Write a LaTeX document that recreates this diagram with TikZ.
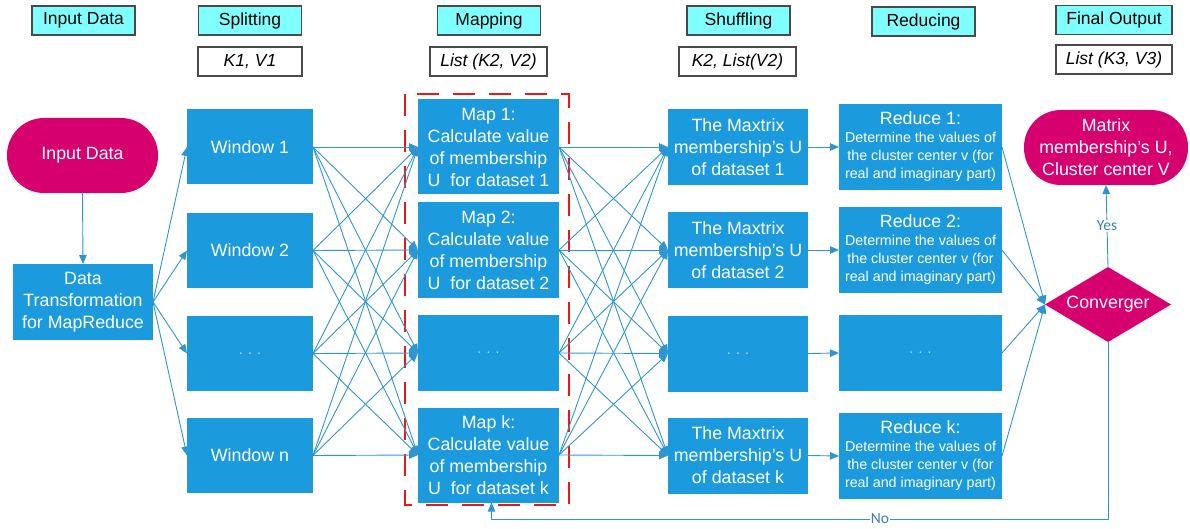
\documentclass[tikz,border=0pt]{standalone}
\usepackage{fontspec}
\setmainfont{Liberation Sans}
\newfontfamily\labelfont{Carlito}
\usetikzlibrary{arrows.meta,shapes.geometric}
\definecolor{boxblue}{HTML}{1B9BDE}
\definecolor{linkblue}{HTML}{2F95D2}
\definecolor{hotpink}{HTML}{D6006F}
\definecolor{headcyan}{HTML}{80FFFF}
\definecolor{edgegray}{HTML}{4A4A4A}
\definecolor{framered}{HTML}{E61A1A}
\definecolor{labelblue}{HTML}{3C7FB2}

\begin{document}
\begin{tikzpicture}[x=1pt,y=-1pt,
  every node/.style={inner sep=0pt, outer sep=0pt, align=center},
  stage/.style={draw=edgegray, line width=1.2pt, fill=headcyan,
    minimum width=103pt, minimum height=29pt,
    font=\fontsize{17.5}{20}\selectfont},
  kv/.style={draw=edgegray, line width=1.2pt, fill=white,
    minimum width=104pt, minimum height=29pt,
    font=\fontsize{17.5}{20}\selectfont\itshape},
  block/.style={fill=boxblue, text=white,
    font=\fontsize{17.8}{22}\selectfont},
  winbox/.style={block, minimum width=126pt, minimum height=75pt},
  mapbox/.style={block, minimum width=141pt, minimum height=95pt},
  shufbox/.style={block, minimum width=140pt, minimum height=76pt},
  redbox/.style={block, minimum width=163pt, minimum height=86pt,
    font=\fontsize{14.3}{18}\selectfont},
  terminal/.style={fill=hotpink, text=white, rounded corners=37pt,
    font=\fontsize{17.8}{22}\selectfont},
  link/.style={draw=linkblue, line width=0.9pt,
    -{Triangle[length=9pt,width=7.5pt]}},
  flowlabel/.style={font=\labelfont\fontsize{15.5}{17}\selectfont,
    text=labelblue, fill=white, inner sep=1pt},
  dots/.style={font=\fontsize{14}{14}\selectfont, text=white!70!boxblue}
]
\useasboundingbox (0,0) rectangle (1190,529);

% stage headers and key/value types
\node[stage] (hIn)    at (83.5,20.5)  {Input Data};
\node[stage] (hSplit) at (250,20.5)   {Splitting};
\node[stage] (hMap)   at (489,20.5)   {Mapping};
\node[stage] (hShuf)  at (738.5,20.5) {Shuffling};
\node[stage] (hRed)   at (923.5,21.5) {Reducing};
\node[stage, minimum width=116pt] (hOut) at (1114,20) {Final Output};
\node[kv] (kvSplit) at (250,61.5) {K1, V1};
\node[kv, minimum width=117pt] (kvMap)  at (488.5,61.5) {List (K2, V2)};
\node[kv, minimum width=117pt] (kvShuf) at (737.5,61.5) {K2, List(V2)};
\node[kv, minimum width=116pt] (kvOut)  at (1114,59.5)  {List (K3, V3)};

% input side
\node[terminal, minimum width=151pt, minimum height=75pt] (in) at (82.5,155.5) {Input Data};
\node[block, minimum width=140pt, minimum height=76pt] (dt) at (83,302)
  {Data\\Transformation\\for MapReduce};

% splitting
\node[winbox] (w1) at (250,147)   {Window 1};
\node[winbox] (w2) at (250,250.5) {Window 2};
\node[winbox] (w3) at (250,353.5) {\phantom{x}};
\node[dots] at (w3) {. . .};
\node[winbox] (w4) at (250,455.5) {Window n};

% mapping
\node[mapbox] (m1) at (488.5,147) {Map 1:\\Calculate value\\of membership\\U\ \ for dataset 1};
\node[mapbox] (m2) at (488.5,250) {Map 2:\\Calculate value\\of membership\\U\ \ for dataset 2};
\node[mapbox, minimum height=76pt] (m3) at (488.5,353) {\phantom{x}};
\node[dots] at (m3) {. . .};
\node[mapbox] (m4) at (488.5,455) {Map k:\\Calculate value\\of membership\\U\ \ for dataset k};

% shuffling
\node[shufbox] (s1) at (738,147)   {The Maxtrix\\membership’s U\\of dataset 1};
\node[shufbox] (s2) at (738,250)   {The Maxtrix\\membership’s U\\of dataset 2};
\node[shufbox] (s3) at (738,353.5) {\phantom{x}};
\node[dots] at (s3) {. . .};
\node[shufbox] (s4) at (738,455.5) {The Maxtrix\\membership’s U\\of dataset k};

% reducing
\node[redbox] (r1) at (920.5,147) {{\fontsize{17.8}{18}\selectfont Reduce 1:}\\Determine the values of\\the cluster center v (for\\real and imaginary part)};
\node[redbox] (r2) at (920.5,250) {{\fontsize{17.8}{18}\selectfont Reduce 2:}\\Determine the values of\\the cluster center v (for\\real and imaginary part)};
\node[redbox, minimum height=76pt] (r3) at (920.5,353) {\phantom{x}};
\node[dots] at (r3) {. . .};
\node[redbox] (r4) at (920.5,456) {{\fontsize{17.8}{18}\selectfont Reduce k:}\\Determine the values of\\the cluster center v (for\\real and imaginary part)};

% output and convergence test
\node[terminal, minimum width=164pt, minimum height=75pt] (out) at (1106,147.5)
  {Matrix\\membership’s U,\\Cluster center V};
\node[diamond, fill=hotpink, text=white, aspect=1.68,
  minimum width=126pt, minimum height=75pt,
  font=\fontsize{17.8}{22}\selectfont] (conv) at (1108,304.5) {Converger};

% mapping stage frame
\draw[framered, line width=2.5pt, dash pattern=on 22pt off 14pt]
  (405,94) rectangle (569,505);

% connectors
\draw[link] (in.south) -- (dt.north);
\foreach \w in {w1,w2,w3,w4} \draw[link] (dt.east) -- (\w.west);
\foreach \w in {w1,w2,w3,w4}
  \foreach \m in {m1,m2,m3,m4}
    \draw[link] (\w.east) -- (\m.west);
\foreach \m in {m1,m2,m3,m4}
  \foreach \s in {s1,s2,s3,s4}
    \draw[link] (\m.east) -- (\s.west);
\draw[link] (s1.east) -- (r1.west);
\draw[link] (s2.east) -- (r2.west);
\draw[link] (s3.east) -- (r3.west);
\draw[link] (s4.east) -- (r4.west);
\foreach \r in {r1,r2,r3,r4} \draw[link] (\r.east) -- (conv.west);
\draw[link] (conv.north) -- node[flowlabel] {Yes} (out.south);
\coordinate (loopcorner) at (conv.south |- 0,519);
\draw[link] (conv.south) -- (loopcorner) -| ([xshift=3pt]m4.south);
\node[flowlabel] (nolabel) at (880,519) {No};
\end{tikzpicture}
\end{document}
